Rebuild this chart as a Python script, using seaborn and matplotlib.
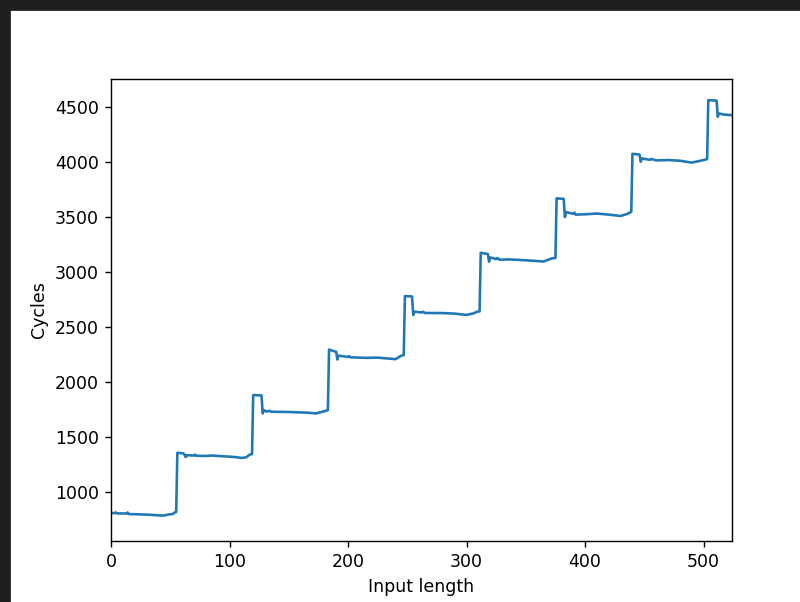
import matplotlib
matplotlib.use('Agg')
import matplotlib.pyplot as plt
from matplotlib.patches import Rectangle
import seaborn as sns
import pandas as pd

# Breakpoints (input length -> cycles)
input_length = [
    0, 3, 4, 5, 13, 14, 15, 25, 35, 40, 45, 48, 52, 54, 55,
    56, 61, 62, 63, 64, 70, 71, 72, 80, 85, 95, 105, 110, 114, 117, 119,
    120, 127, 128, 129, 131, 134, 135, 150, 165, 173, 180, 183,
    184, 189, 190, 191, 192, 200, 201, 202, 215, 225, 240, 245, 247,
    248, 254, 255, 256, 262, 263, 265, 280, 290, 300, 306, 309, 311,
    312, 318, 319, 320, 325, 326, 328, 335, 345, 360, 365, 372, 375,
    376, 382, 383, 384, 390, 391, 392, 400, 410, 420, 430, 436, 439,
    440, 446, 447, 448, 455, 456, 460, 470, 480, 490, 500, 503,
    504, 511, 512, 513, 517, 523,
]
cycles = [
    810, 808, 815, 806, 805, 814, 800, 797, 792, 788, 787, 795, 800, 815, 818,
    1357, 1352, 1340, 1318, 1335, 1332, 1340, 1330, 1328, 1332, 1325, 1318, 1310, 1315, 1340, 1345,
    1882, 1878, 1715, 1745, 1732, 1738, 1730, 1728, 1722, 1715, 1735, 1745,
    2295, 2278, 2275, 2205, 2240, 2228, 2236, 2225, 2220, 2222, 2208, 2240, 2245,
    2782, 2778, 2610, 2640, 2632, 2640, 2628, 2627, 2622, 2610, 2625, 2640, 2642,
    3175, 3164, 3094, 3133, 3118, 3128, 3112, 3115, 3110, 3100, 3096, 3124, 3128,
    3670, 3665, 3500, 3545, 3530, 3540, 3522, 3525, 3532, 3522, 3510, 3530, 3548,
    4075, 4068, 4003, 4033, 4020, 4028, 4015, 4018, 4012, 3995, 4018, 4027,
    4563, 4558, 4412, 4442, 4432, 4427,
]

df = pd.DataFrame({'Input length': input_length, 'Cycles': cycles})

fig = plt.figure(figsize=(6.4, 4.816), dpi=125)
ax = fig.add_axes([111 / 800, 61 / 602, 621 / 800, 462 / 602])

sns.lineplot(data=df, x='Input length', y='Cycles', ax=ax, sort=False)
ax.set_xlim(0, 524)
ax.set_ylim(555, 4755)
ax.set_xlabel('Input length')
ax.set_ylabel('Cycles')

# dark screenshot frame on top and left
fig.patches.append(Rectangle((0, 1 - 10 / 602), 1, 10 / 602, transform=fig.transFigure,
                             color='#1f1f1f', zorder=10))
fig.patches.append(Rectangle((0, 0), 10 / 800, 1, transform=fig.transFigure,
                             color='#1f1f1f', zorder=10))

fig.savefig('out.png', dpi=125)
